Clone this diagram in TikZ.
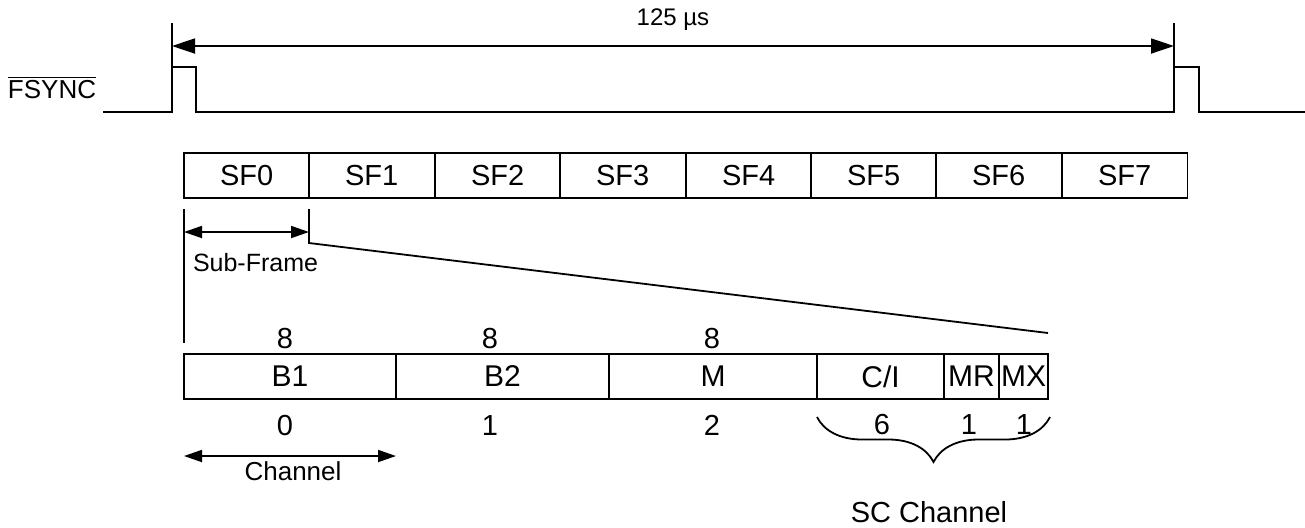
\documentclass[tikz,border=0pt]{standalone}
\usepackage{fontspec}
\setmainfont{Liberation Sans}
\usetikzlibrary{arrows.meta, positioning, calc, decorations.pathreplacing}

\begin{document}
\begin{tikzpicture}[
    x=0.5pt, y=-0.5pt,
    line width=0.9pt,
    every node/.style={inner sep=0pt, outer sep=0pt},
    sfbox/.style={draw, minimum width=62.7pt, minimum height=22.5pt, anchor=north west, font=\fontsize{14.5}{16}\selectfont},
    chbox/.style={draw, minimum height=22.5pt, anchor=north west, font=\fontsize{15}{17}\selectfont},
    num/.style={anchor=base, font=\fontsize{14.5}{16}\selectfont},
    bigtip/.style={{Triangle[length=11.5pt,width=7.5pt]}-{Triangle[length=11.5pt,width=7.5pt]}},
    smalltip/.style={{Triangle[length=9pt,width=6pt]}-{Triangle[length=9pt,width=6pt]}}
]
\useasboundingbox (0,0) rectangle (1305,527);

% FSYNC signal
\node[anchor=base west, font=\fontsize{13}{15}\selectfont] (fsync) at (8,98) {$\overline{\mbox{FSYNC}}$};
\draw (103,112) -- (172,112) -- (172,67) -- (196,67) -- (196,112) -- (1174,112) -- (1174,67) -- (1199,67) -- (1199,112) -- (1305,112);

% Frame period
\draw (172,23) -- (172,67);
\draw (1174,23) -- (1174,67);
\coordinate (frameL) at (172,46);
\coordinate (frameR) at (1174,46);
\draw[bigtip] (frameL) -- (frameR) node[midway, above=8pt, font=\fontsize{12}{14}\selectfont] (period) {125 µs};

% Sub-frames
\node[sfbox] (sf0) at (184,153) {SF0};
\node[sfbox] (sf1) at (309,153) {SF1};
\node[sfbox] (sf2) at (435,153) {SF2};
\node[sfbox] (sf3) at (560,153) {SF3};
\node[sfbox] (sf4) at (686,153) {SF4};
\node[sfbox] (sf5) at (811,153) {SF5};
\node[sfbox] (sf6) at (936,153) {SF6};
\node[sfbox] (sf7) at (1062,153) {SF7};

% Channels of one sub-frame
\node[chbox, minimum width=106pt] (b1) at (184,354) {B1};
\node[chbox, minimum width=106.5pt] (b2) at (396,354) {B2};
\node[chbox, minimum width=104pt] (m) at (609,354) {M};
\node[chbox, minimum width=63.5pt] (ci) at (817,354) {C/I};
\node[chbox, minimum width=27.5pt] (mr) at (944,354) {MR};
\node[chbox, minimum width=24.5pt] (mx) at (999,354) {MX};

% Sub-frame expansion
\draw (sf0.south west) ++(0,11) -- ++(0,134);
\draw (sf1.south west) ++(0,11) -- ++(0,34) -- ($(mx.north east)+(0,-21)$);
\draw[smalltip] ($(sf0.south west)+(0,34)$) -- ($(sf1.south west)+(0,34)$);
\node[anchor=base west, font=\fontsize{12.5}{14}\selectfont] (sublbl) at (193,271) {Sub-Frame};

% Bit counts
\node[num] (w1) at (285,348) {8};
\node[num] (w2) at (490,348) {8};
\node[num] (w3) at (712,348) {8};

% Channel numbers
\node[num] (n0) at (285,435) {0};
\node[num] (n1) at (490,435) {1};
\node[num] (n2) at (712,435) {2};
\node[num] (n6) at (882,434) {6};
\node[num] (nmr) at (969,434) {1};
\node[num] (nmx) at (1024,434) {1};

% Channel width
\draw[smalltip] ($(b1.south west)+(0,57)$) -- ($(b1.south east)+(0,57)$);
\node[anchor=base, font=\fontsize{13}{15}\selectfont] (chlbl) at (293,480) {Channel};

% SC channel
\draw[decorate, decoration={brace, mirror, amplitude=22.5pt}] ($(ci.south west)+(0,18)$) -- ($(mx.south east)+(2,18)$);
\node[anchor=base, font=\fontsize{14.5}{16}\selectfont] (sclbl) at (929,522) {SC Channel};

\end{tikzpicture}
\end{document}
